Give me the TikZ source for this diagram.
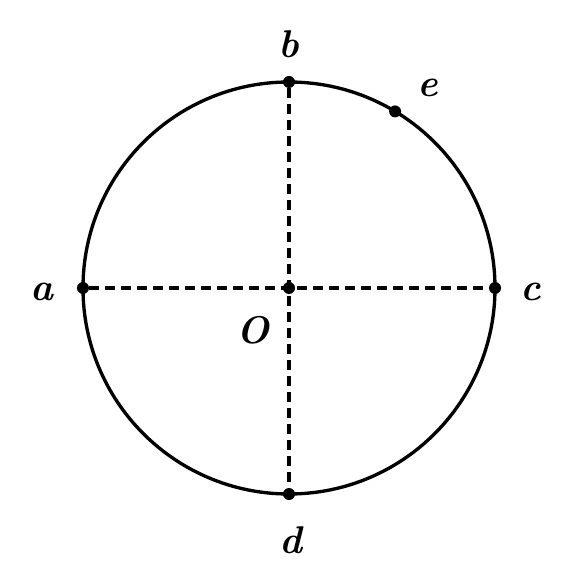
\documentclass[tikz,border=0pt]{standalone}
\usepackage{tikz}

\begin{document}
\begin{tikzpicture}[
  x=1cm,
  y=1cm,
  every node/.style={font=\fontsize{22}{26}\selectfont\bfseries\itshape,inner sep=1pt},
  pt/.style={circle,fill,inner sep=0pt,minimum size=0.24cm},
  axis/.style={line width=2.2pt,dash pattern=on 0.2cm off 0.12cm},
  rim/.style={line width=1.9pt}
]
\useasboundingbox (-5.78,-5.5) rectangle (5.72,5.76);

% Circle
\coordinate (O) at (0,0);
\draw[rim] (O) circle (4.12);

% Points on the circle
\node[pt] (a) at (180:4.12) {};
\node[pt] (b) at (90:4.12) {};
\node[pt] (c) at (0:4.12) {};
\node[pt] (d) at (270:4.12) {};
\node[pt] (e) at (59:4.12) {};
\node[pt] (o) at (O) {};

% Diameters
\draw[axis] (a) -- (c);
\draw[axis] (b) -- (d);

% Labels
\node (la) at (-4.94,-0.08) {a};
\node (lb) at (0,4.88) {b};
\node (lc) at (4.84,-0.08) {c};
\node (ld) at (0.04,-5.04) {d};
\node (le) at (2.78,4.0) {e};
\node (lO) at (-0.72,-0.84) {O};
\end{tikzpicture}
\end{document}
